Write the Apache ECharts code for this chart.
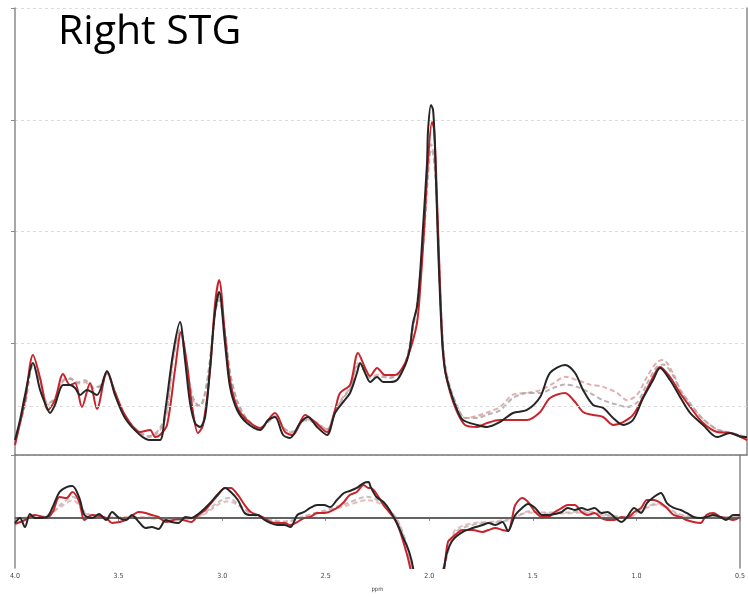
<!DOCTYPE html>
<html><head><meta charset="utf-8">
<script src="https://cdn.jsdelivr.net/npm/echarts/dist/echarts.min.js"></script>
<style>html,body{margin:0;padding:0;background:#fff}#c{width:748px;height:597px}</style>
</head><body><div id="c"></div><script>
// x tick labels (ppm)
const ppmTicks = [4.0, 3.5, 3.0, 2.5, 2.0, 1.5, 1.0, 0.5];
const titleText = 'Right STG';
// Spectrum (top panel): [ppm, intensity a.u.]
const blackSpec = [[4.000,1.34],[3.976,3.13],[3.952,5.37],[3.914,8.23],[3.880,5.82],[3.847,4.21],[3.833,3.76],[3.809,4.48],[3.770,6.27],[3.737,6.27],[3.713,6.00],[3.689,5.37],[3.656,5.82],[3.608,5.37],[3.560,7.52],[3.522,5.37],[3.474,3.31],[3.402,1.79],[3.354,1.34],[3.307,1.34],[3.283,3.76],[3.244,9.13],[3.211,11.90],[3.187,8.50],[3.163,4.65],[3.139,2.86],[3.115,2.51],[3.091,3.40],[3.067,7.88],[3.044,12.71],[3.024,14.59],[2.996,10.02],[2.972,6.09],[2.938,4.03],[2.891,2.86],[2.828,2.24],[2.790,3.13],[2.757,3.40],[2.718,1.79],[2.685,1.52],[2.637,2.86],[2.599,3.40],[2.556,2.51],[2.508,1.79],[2.470,3.76],[2.431,4.74],[2.398,5.55],[2.365,7.34],[2.350,8.23],[2.326,7.34],[2.302,6.53],[2.269,6.98],[2.240,6.53],[2.207,6.53],[2.173,6.71],[2.145,7.61],[2.125,8.50],[2.111,9.67],[2.097,11.81],[2.078,13.25],[2.063,16.29],[2.049,20.41],[2.030,26.13],[2.025,29.09],[2.011,31.33],[2.001,30.88],[1.992,27.57],[1.977,18.62],[1.958,10.29],[1.944,7.61],[1.920,5.82],[1.886,4.03],[1.858,3.13],[1.791,2.69],[1.743,2.51],[1.681,2.95],[1.619,3.76],[1.552,4.03],[1.489,5.19],[1.442,7.34],[1.370,8.06],[1.322,7.34],[1.284,5.82],[1.236,4.48],[1.188,4.21],[1.140,3.31],[1.092,2.69],[1.045,3.13],[0.997,5.10],[0.949,6.71],[0.916,7.79],[0.868,6.71],[0.820,5.19],[0.772,3.76],[0.710,2.69],[0.643,1.61],[0.581,1.97],[0.519,1.61],[0.500,1.61]];
const redSpec = [[4.000,0.90],[3.952,4.92],[3.914,8.95],[3.880,6.89],[3.842,4.03],[3.809,4.92],[3.770,7.25],[3.737,6.27],[3.713,6.44],[3.680,4.30],[3.641,6.44],[3.608,4.12],[3.560,7.43],[3.522,5.64],[3.474,3.58],[3.402,2.06],[3.354,2.24],[3.330,1.61],[3.307,1.79],[3.273,2.69],[3.235,7.61],[3.206,11.01],[3.177,8.06],[3.154,4.48],[3.125,1.97],[3.101,2.69],[3.067,7.61],[3.044,13.43],[3.024,15.66],[2.996,10.74],[2.972,6.71],[2.938,4.30],[2.891,3.13],[2.828,2.42],[2.757,3.76],[2.709,2.06],[2.671,1.79],[2.613,3.58],[2.566,2.95],[2.508,2.06],[2.470,4.03],[2.446,5.55],[2.398,6.27],[2.360,9.13],[2.326,7.79],[2.302,7.07],[2.269,7.79],[2.231,7.16],[2.183,7.16],[2.145,7.88],[2.111,9.40],[2.078,11.81],[2.063,14.77],[2.044,20.14],[2.025,26.40],[2.006,29.80],[1.996,29.09],[1.987,25.51],[1.972,17.45],[1.958,10.74],[1.944,7.61],[1.920,5.64],[1.886,3.85],[1.848,2.69],[1.791,2.51],[1.743,2.86],[1.681,3.13],[1.619,3.13],[1.552,3.13],[1.489,3.85],[1.442,5.10],[1.370,5.55],[1.322,4.74],[1.284,3.85],[1.236,3.58],[1.188,3.40],[1.140,2.69],[1.092,2.95],[1.045,3.58],[0.997,5.19],[0.949,6.98],[0.916,7.88],[0.868,6.98],[0.820,5.55],[0.772,4.30],[0.710,2.86],[0.643,2.06],[0.581,1.97],[0.519,1.52],[0.500,1.34]];
const pinkFit = [[4.000,1.34],[3.952,4.6],[3.914,8.2],[3.880,6.8],[3.842,4.5],[3.809,5.0],[3.770,6.7],[3.737,6.9],[3.700,6.4],[3.665,6.5],[3.627,6.0],[3.594,6.2],[3.560,7.4],[3.522,5.6],[3.474,3.4],[3.402,2.0],[3.354,1.6],[3.307,2.2],[3.273,3.8],[3.244,8.5],[3.211,11.0],[3.187,8.8],[3.163,6.0],[3.139,4.5],[3.115,4.4],[3.091,5.5],[3.067,8.5],[3.044,12.8],[3.024,14.3],[2.996,11.0],[2.972,7.3],[2.938,4.8],[2.891,3.2],[2.828,2.4],[2.757,3.5],[2.709,2.3],[2.671,2.0],[2.613,3.2],[2.566,3.0],[2.508,2.3],[2.470,3.9],[2.431,5.2],[2.398,6.0],[2.360,8.2],[2.326,7.6],[2.302,7.0],[2.255,7.2],[2.207,7.0],[2.159,7.4],[2.125,8.8],[2.097,11.5],[2.078,13.5],[2.063,16.0],[2.044,20.0],[2.025,25.5],[2.011,27.8],[2.001,27.5],[1.987,24.5],[1.972,17.0],[1.958,11.0],[1.944,8.0],[1.920,6.0],[1.886,4.3],[1.848,3.3],[1.791,3.5],[1.743,3.8],[1.681,4.3],[1.619,5.4],[1.552,5.55],[1.489,5.8],[1.427,6.4],[1.370,7.0],[1.312,6.7],[1.250,6.3],[1.188,6.1],[1.121,5.55],[1.073,4.9],[1.025,5.4],[0.978,7.0],[0.930,8.3],[0.901,8.5],[0.853,7.3],[0.820,5.9],[0.772,4.6],[0.710,3.2],[0.643,2.3],[0.581,2.0],[0.519,1.7],[0.500,1.5]];
const grayFit = [[4.000,1.3],[3.952,4.5],[3.914,8.0],[3.880,6.6],[3.842,4.6],[3.809,5.1],[3.770,6.6],[3.737,6.8],[3.700,6.5],[3.665,6.7],[3.627,6.1],[3.594,6.1],[3.560,7.3],[3.522,5.5],[3.474,3.4],[3.402,2.0],[3.354,1.7],[3.307,2.4],[3.273,4.2],[3.244,8.8],[3.211,11.2],[3.187,9.0],[3.163,6.2],[3.139,4.7],[3.115,4.4],[3.091,5.6],[3.067,8.6],[3.044,12.6],[3.024,13.9],[2.996,11.0],[2.972,7.4],[2.938,4.9],[2.891,3.2],[2.828,2.4],[2.757,3.4],[2.709,2.3],[2.671,2.1],[2.613,3.1],[2.566,2.9],[2.508,2.3],[2.470,3.8],[2.431,5.1],[2.398,5.9],[2.360,8.0],[2.326,7.5],[2.302,6.9],[2.255,7.0],[2.207,6.9],[2.159,7.3],[2.125,8.7],[2.097,11.4],[2.078,13.4],[2.063,16.0],[2.044,19.8],[2.025,25.0],[2.011,27.3],[2.001,27.0],[1.987,24.0],[1.972,17.0],[1.958,11.2],[1.944,8.1],[1.920,6.1],[1.886,4.4],[1.848,3.3],[1.791,3.3],[1.743,3.6],[1.681,4.0],[1.619,5.1],[1.552,5.55],[1.489,5.55],[1.427,6.0],[1.370,6.3],[1.312,6.1],[1.250,5.55],[1.188,4.9],[1.121,4.5],[1.073,4.3],[1.025,4.7],[0.978,6.4],[0.930,7.9],[0.901,8.1],[0.853,7.1],[0.820,5.8],[0.772,4.6],[0.710,3.2],[0.643,2.3],[0.581,2.0],[0.519,1.7],[0.500,1.5]];
const baselineLevel = 4.4;
// Residuals (bottom panel): [ppm, residual a.u.]
const blackRes = [[4.000,-0.45],[3.976,0],[3.952,-0.81],[3.928,0.36],[3.904,0],[3.847,0.09],[3.818,0.98],[3.785,2.33],[3.751,2.77],[3.723,2.86],[3.689,1.79],[3.665,0.27],[3.627,0],[3.594,0.36],[3.560,-0.18],[3.531,0.54],[3.498,0],[3.464,-0.18],[3.436,0.27],[3.402,-0.36],[3.369,-0.90],[3.340,-0.81],[3.307,-0.98],[3.273,-0.18],[3.244,-0.36],[3.211,-0.45],[3.177,0.09],[3.149,0],[3.115,0.36],[3.082,0.90],[3.053,1.43],[3.020,2.15],[2.986,2.69],[2.958,2.33],[2.924,1.61],[2.891,0.45],[2.862,0.27],[2.828,0.27],[2.795,-0.18],[2.766,-0.45],[2.733,-0.63],[2.699,-0.63],[2.671,-0.81],[2.637,0.27],[2.604,0.54],[2.575,0.90],[2.541,1.16],[2.508,1.16],[2.479,0.98],[2.446,1.61],[2.412,2.24],[2.384,2.42],[2.350,2.69],[2.317,3.13],[2.293,3.22],[2.283,2.77],[2.255,1.88],[2.221,1.43],[2.192,0.72],[2.159,-0.36],[2.125,-1.79],[2.097,-3.04],[2.078,-4.48],[2.060,-7.0],[2.030,-10.0],[1.990,-9.0],[1.950,-5.5],[1.930,-4.5],[1.915,-3.13],[1.886,-1.97],[1.838,-1.25],[1.791,-0.90],[1.743,-0.63],[1.714,-0.45],[1.681,-0.63],[1.647,-0.36],[1.619,-1.16],[1.599,-0.36],[1.585,0.27],[1.552,0.90],[1.523,1.25],[1.489,0.90],[1.456,0.27],[1.427,0.27],[1.394,0.36],[1.360,0.54],[1.332,0.90],[1.298,0.72],[1.265,0.90],[1.236,0.72],[1.202,0.90],[1.169,0.45],[1.140,0.54],[1.107,0.09],[1.073,-0.36],[1.045,0.09],[1.011,0.90],[0.978,0.45],[0.949,1.34],[0.916,1.88],[0.882,2.24],[0.853,1.34],[0.820,0.90],[0.786,0.72],[0.758,0.45],[0.724,0.09],[0.691,0],[0.662,0.09],[0.629,0.27],[0.595,0.09],[0.567,-0.18],[0.533,0.27],[0.500,0.27]];
const redRes = [[4.000,-0.54],[3.952,-0.18],[3.904,0.27],[3.847,0],[3.818,0.54],[3.785,1.88],[3.751,1.79],[3.723,2.33],[3.689,1.43],[3.665,-0.18],[3.627,0.27],[3.560,0],[3.531,-0.45],[3.464,-0.18],[3.402,0.54],[3.369,0.45],[3.340,0.27],[3.307,0.09],[3.273,-0.36],[3.211,-0.09],[3.149,-0.36],[3.115,0.27],[3.082,0.72],[3.053,1.34],[3.020,2.06],[2.986,2.69],[2.958,2.69],[2.924,2.06],[2.891,1.16],[2.862,0.54],[2.828,0.27],[2.795,0],[2.766,-0.36],[2.733,-0.45],[2.699,-0.45],[2.671,-0.63],[2.637,-0.36],[2.604,0],[2.575,0.09],[2.541,0.45],[2.508,0.45],[2.446,0.90],[2.412,1.43],[2.384,2.06],[2.350,2.33],[2.317,2.95],[2.293,2.69],[2.283,2.69],[2.221,1.16],[2.159,-0.36],[2.111,-3.04],[2.092,-4.48],[2.060,-7.5],[2.030,-11.0],[1.990,-10.0],[1.950,-6.0],[1.930,-4.8],[1.910,-2.15],[1.886,-1.70],[1.838,-1.07],[1.791,-1.07],[1.743,-1.25],[1.714,-1.07],[1.681,-0.90],[1.647,-1.07],[1.619,-1.16],[1.599,0.09],[1.585,1.16],[1.552,1.79],[1.523,1.43],[1.489,0.54],[1.456,0.09],[1.427,0.09],[1.394,0.54],[1.360,0.90],[1.332,1.16],[1.298,1.16],[1.265,0.54],[1.236,0.27],[1.202,0.45],[1.169,0],[1.140,-0.18],[1.107,-0.18],[1.073,0.09],[1.045,0],[1.011,0.54],[0.978,0.90],[0.949,1.61],[0.916,1.61],[0.882,1.34],[0.853,0.90],[0.820,0.27],[0.786,0.09],[0.758,-0.18],[0.724,-0.36],[0.691,-0.45],[0.662,0.27],[0.629,0.45],[0.595,0.09],[0.567,0],[0.533,-0.18],[0.500,0.09]];
const grayRes = [[4.00,0],[3.85,0.1],[3.78,1.2],[3.72,1.9],[3.66,0.5],[3.55,0],[3.40,0],[3.20,-0.2],[3.10,0.3],[3.02,1.4],[2.97,1.8],[2.92,1.2],[2.85,0.3],[2.70,-0.4],[2.60,0.2],[2.50,0.7],[2.40,1.3],[2.30,1.9],[2.25,1.6],[2.20,0.9],[2.15,-0.3],[2.10,-3.0],[2.05,-8],[2.00,-11],[1.95,-6],[1.92,-3.8],[1.88,-1.4],[1.84,-0.9],[1.76,-0.5],[1.68,-0.4],[1.60,-0.1],[1.52,0.6],[1.45,0.5],[1.35,0.5],[1.25,0.6],[1.15,0.3],[1.05,0.1],[0.95,1.0],[0.90,1.3],[0.80,0.4],[0.70,0],[0.60,0.1],[0.50,0.1]];
const pinkRes = [[4.00,0],[3.85,0.2],[3.78,1.0],[3.72,1.6],[3.66,0.4],[3.55,0.1],[3.40,0.1],[3.20,-0.1],[3.10,0.2],[3.02,1.2],[2.97,1.5],[2.92,1.1],[2.85,0.3],[2.70,-0.3],[2.60,0.1],[2.50,0.6],[2.40,1.1],[2.30,1.6],[2.25,1.4],[2.20,0.8],[2.15,-0.4],[2.10,-3.2],[2.05,-8],[2.00,-11],[1.95,-6],[1.92,-3.6],[1.88,-1.2],[1.84,-0.7],[1.76,-0.4],[1.68,-0.3],[1.60,0],[1.52,0.5],[1.45,0.4],[1.35,0.4],[1.25,0.5],[1.15,0.2],[1.05,0],[0.95,0.9],[0.90,1.2],[0.80,0.3],[0.70,0],[0.60,0.1],[0.50,0.1]];

const chart = echarts.init(document.getElementById('c'), null, {renderer:'canvas'});
const axisGray = '#8a8a8a';
const xCommon = {type:'value', inverse:true, min:0.5, max:4.0, interval:0.5};
const lineS = (name, data, xi, color, dashed, z, extra) => Object.assign({
  name, type:'line', data, xAxisIndex:xi, yAxisIndex:xi, showSymbol:false, symbol:'none',
  smooth:0.3, z, silent:true,
  lineStyle:{color, width:2, type: dashed ? [5,3] : 'solid'}
}, extra || {});
chart.setOption({
  animation:false,
  backgroundColor:'#fff',
  graphic:[{type:'text', left:58, top:12, style:{text:titleText, font:'41px "Open Sans"', fill:'#000'}}],
  grid:[{left:15,right:1,top:8,height:447},{left:15,right:1,top:455,height:113}],
  xAxis:[
    Object.assign({gridIndex:0, axisLine:{show:true,lineStyle:{color:'#777',width:1.5}}, axisTick:{show:false}, axisLabel:{show:false}, splitLine:{show:false}}, xCommon),
    Object.assign({gridIndex:1, axisLine:{show:true,lineStyle:{color:axisGray,width:2}},
      axisTick:{show:true,length:3,lineStyle:{color:axisGray}},
      axisLabel:{show:true,fontSize:7,color:'#444',margin:5,fontFamily:'DejaVu Sans Condensed',
        alignMinLabel:'center', alignMaxLabel:'center', hideOverlap:false,
        formatter:v => { const t = ppmTicks.find(p => Math.abs(p - v) < 1e-6); return t === undefined ? '' : t.toFixed(1); }},
      splitLine:{show:false}, name:'ppm', nameLocation:'middle', nameGap:18,
      nameTextStyle:{fontSize:6,color:'#444',fontFamily:'DejaVu Sans Condensed'}}, xCommon)
  ],
  yAxis:[
    {gridIndex:0, type:'value', min:0, max:40, interval:10,
      axisLine:{show:true,lineStyle:{color:axisGray,width:1.5}},
      axisTick:{show:true,length:4,lineStyle:{color:axisGray}},
      axisLabel:{show:false}, splitLine:{show:true,lineStyle:{color:'#dcdcdc',type:[3,3],width:1}}},
    {gridIndex:1, type:'value', min:-4.475, max:5.64,
      axisLine:{show:true,lineStyle:{color:axisGray,width:1.5}}, axisTick:{show:false}, axisLabel:{show:false}, splitLine:{show:false}},
    {gridIndex:0, type:'value', position:'right', min:0, max:40,
      axisLine:{show:true,lineStyle:{color:axisGray,width:1.5}}, axisTick:{show:false}, axisLabel:{show:false}, splitLine:{show:false}},
    {gridIndex:1, type:'value', position:'right', min:-4.475, max:5.64,
      axisLine:{show:true,lineStyle:{color:axisGray,width:1.5}}, axisTick:{show:false}, axisLabel:{show:false}, splitLine:{show:false}}
  ],
  series:[
    lineS('fit A', pinkFit, 0, 'rgba(222,160,160,0.85)', true, 2, {
      markLine:{silent:true, symbol:'none', label:{show:false}, lineStyle:{color:'#dcdcdc',type:[3,3],width:1}, data:[{yAxis:baselineLevel}]}}),
    lineS('fit B', grayFit, 0, 'rgba(175,165,165,0.85)', true, 3),
    lineS('red', redSpec, 0, '#c8242c', false, 4),
    lineS('black', blackSpec, 0, '#252525', false, 5),
    lineS('res fit A', pinkRes, 1, 'rgba(222,160,160,0.7)', true, 2),
    lineS('res fit B', grayRes, 1, 'rgba(175,165,165,0.7)', true, 3),
    lineS('res red', redRes, 1, '#c8242c', false, 4),
    lineS('res black', blackRes, 1, '#252525', false, 5, {
      markLine:{silent:true, symbol:'none', label:{show:false}, lineStyle:{color:'#555',type:'solid',width:1.5}, data:[{yAxis:0}]}})
  ]
});
</script></body></html>
